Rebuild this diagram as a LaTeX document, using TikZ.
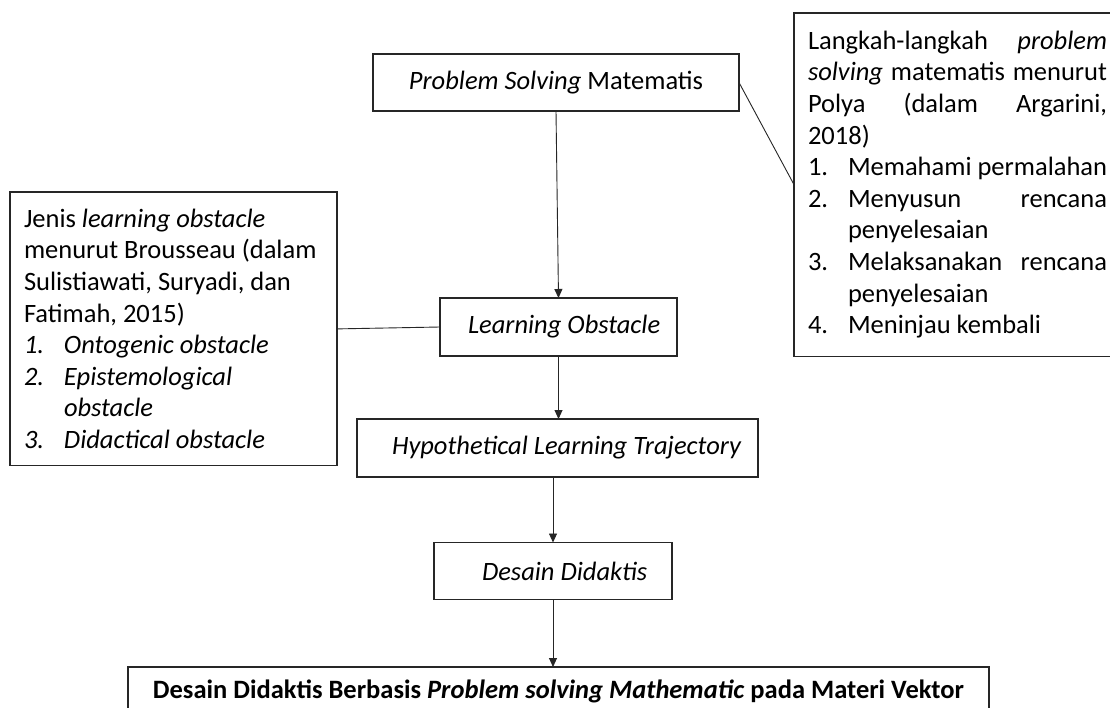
\documentclass[tikz,border=0pt]{standalone}
\usepackage{fontspec}
\setmainfont{Carlito}
\usetikzlibrary{arrows.meta}
\frenchspacing
\newcommand{\jl}[1]{\makebox[\linewidth][s]{#1}}
\newcommand{\itm}[1]{\makebox[40pt][l]{#1}}
\newcommand{\jli}[1]{\makebox[\dimexpr\linewidth-40pt\relax][s]{#1}}
\begin{document}
\begin{tikzpicture}[x=1pt,y=-1pt,
  every node/.style={inner sep=0pt, outer sep=0pt},
  box/.style={draw=black!85, line width=1.2pt, font=\fontsize{26.5}{31.6}\selectfont, align=flush left},
  link/.style={draw=black!85, line width=0.9pt},
  arr/.style={link, -{Triangle[length=9pt,width=8pt]}}]
\useasboundingbox (0,0) rectangle (1110,708);
\clip (0,0) rectangle (1110,708);
\fill[white] (0,0) rectangle (1110,708);

% main chain
\node[box, minimum width=366pt, minimum height=57pt, align=flush center] (psm) at (556,82.5)
  {\textit{Problem Solving} Matematis};
\node[box, minimum width=237pt, minimum height=58pt, text width=237pt] (lo) at (558.5,327)
  {\hspace*{28pt}\textit{Learning Obstacle}};
\node[box, minimum width=401pt, minimum height=58pt, text width=401pt] (hlt) at (557.5,448)
  {\hspace*{35pt}\textit{Hypothetical Learning Trajectory}};
\node[box, minimum width=238pt, minimum height=57pt, text width=238pt] (dd) at (553,571)
  {\hspace*{48pt}\textit{Desain Didaktis}};
\node[box, font=\fontsize{26.5}{31}\selectfont\bfseries, align=flush center,
  minimum width=861pt, text height=31pt, text depth=30pt, anchor=north west] (fin) at (128,667)
  {Desain Didaktis Berbasis \textit{Problem solving Mathematic} pada Materi Vektor};

% left note
\node[box, text width=299pt, inner xsep=14pt, inner ysep=17pt, anchor=north west] (obs) at (10,192)
  {Jenis \textit{learning obstacle}\\
   menurut Brousseau (dalam\\
   Sulistiawati, Suryadi, dan\\
   Fatimah, 2015)\\
   \textit{\itm{1.}Ontogenic obstacle}\\
   \textit{\itm{2.}Epistemological}\\
   \textit{\hspace*{40pt}obstacle}\\
   \textit{\itm{3.}Didactical obstacle}};

% right note
\node[box, text width=299pt, inner xsep=14pt, inner ysep=18pt, anchor=north west] (pol) at (794,13)
  {\jl{Langkah-langkah \hfill \textit{problem}}\\
   \jl{\textit{solving} matematis menurut}\\
   \jl{Polya \hfill (dalam \hfill Argarini,}\\
   2018)\\
   \itm{1.}\mbox{Memahami permalahan}\\
   \itm{2.}\jli{Menyusun \hfill rencana}\\
   \hspace*{40pt}penyelesaian\\
   \itm{3.}\jli{Melaksanakan \hfill rencana}\\
   \hspace*{40pt}penyelesaian\\
   \itm{4.}\mbox{Meninjau kembali}};

% connectors
\draw[arr] (psm.south) -- (lo.north);
\draw[arr] (lo.south) -- (lo.south |- hlt.north);
\draw[arr] (dd.north |- hlt.south) -- (dd.north);
\draw[arr] (dd.south) -- (dd.south |- fin.north);
\draw[link] (obs.east) -- (lo.west);
\draw[link] (psm.east) -- (pol.west);
\end{tikzpicture}
\end{document}
